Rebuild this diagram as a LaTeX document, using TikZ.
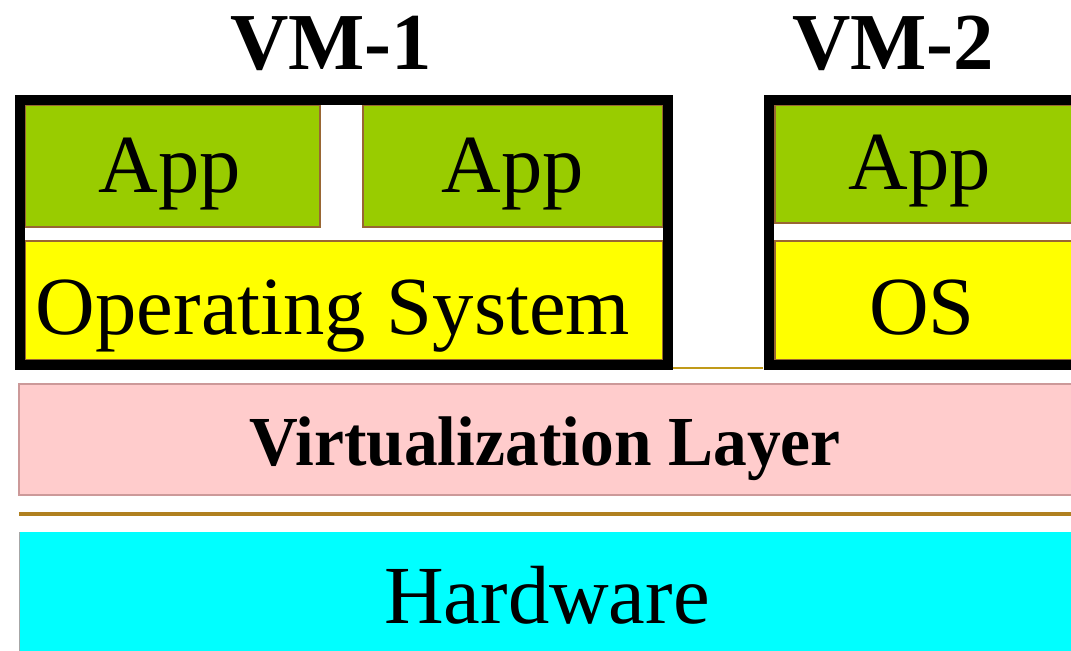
\documentclass[tikz,border=0pt]{standalone}
\usepackage{fontspec}
\setmainfont{Liberation Serif}

\definecolor{appgreen}{HTML}{99CC00}
\definecolor{osyellow}{HTML}{FFFF00}
\definecolor{virtpink}{HTML}{FFCCCC}
\definecolor{virtedge}{HTML}{CC9999}
\definecolor{hwcyan}{HTML}{00FFFF}
\definecolor{golden}{HTML}{B08020}
\definecolor{appedge}{HTML}{996633}

\tikzset{
  vmbox/.style={draw=black,line width=0.2cm},
  appbox/.style={fill=appgreen,draw=appedge,line width=0.6pt},
  osbox/.style={fill=osyellow,draw=appedge,line width=0.6pt},
  bigtext/.style={anchor=base,inner sep=0pt,font=\fontsize{47}{52}\selectfont},
  titletext/.style={anchor=base,inner sep=0pt,font=\fontsize{46}{50}\selectfont\bfseries}
}

\begin{document}
\begin{tikzpicture}[x=0.02cm,y=-0.02cm]
        % Frame
        \useasboundingbox (0,0) rectangle (1071,651);
        \clip (0,0) rectangle (1071,651);

        % Hardware and virtualization layer
        \fill[hwcyan] (19,532) rectangle (1090,660);
        \draw[gray!70,line width=1pt] (19.5,532) -- (19.5,660);
        \filldraw[fill=virtpink,draw=virtedge,line width=1pt] (19,384) rectangle (1090,495);
        \draw[golden,line width=2.5pt] (19,514) -- (1090,514);

        % VM-1
        \filldraw[osbox] (25,241) rectangle (663,360);
        \filldraw[appbox] (25,105) rectangle (320,227);
        \filldraw[appbox] (363,105) rectangle (663,227);
        \draw[vmbox] (20,100) rectangle (668,365);

        % VM-2
        \filldraw[osbox] (775,241) rectangle (1090,360);
        \filldraw[appbox] (775,105) rectangle (1090,223);
        \draw[vmbox] (769,100) rectangle (1100,365);
        \draw[golden!80!yellow,line width=1.5pt] (673,368) -- (763,368);

        % Labels
        \node[titletext] (vmone) at (331,70) {VM-1};
        \node[titletext] (vmtwo) at (893,70) {VM-2};
        \node[bigtext] (appA) at (170,193) {App};
        \node[bigtext] (appB) at (513,193) {App};
        \node[bigtext] (appC) at (920,190) {App};
        \node[bigtext] (osA) at (333,335) {Operating System};
        \node[bigtext] (osB) at (922,335) {OS};
        \node[anchor=base,inner sep=0pt,font=\fontsize{40}{44}\selectfont\bfseries,xscale=0.96] (virt) at (545,465) {Virtualization Layer};
        \node[bigtext] (hw) at (547,623) {Hardware};
\end{tikzpicture}
\end{document}
